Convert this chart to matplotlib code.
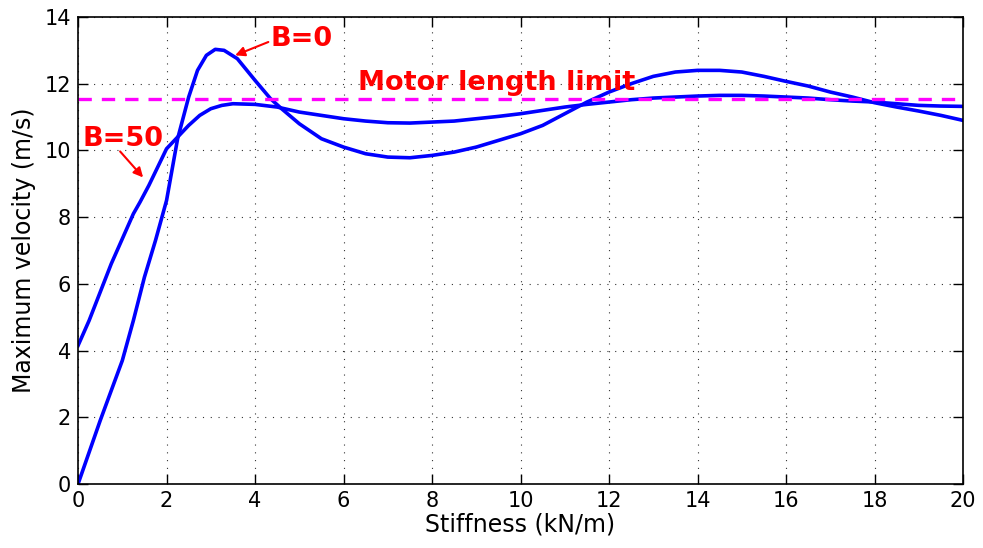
import numpy as np
import matplotlib
matplotlib.use('Agg')
import matplotlib.pyplot as plt

# stiffness (kN/m) and maximum velocity (m/s) for the two damping cases
k_b0 = [0, 0.5, 1.0, 1.25, 1.5, 1.75, 2.0, 2.25, 2.5, 2.7, 2.9, 3.1, 3.3, 3.6, 4.0,
        4.35, 4.6, 5.0, 5.5, 6.0, 6.5, 7.0, 7.5, 8.0, 8.5, 9.0, 9.5, 10.0, 10.5, 11.0,
        11.5, 12.0, 12.5, 13.0, 13.5, 14.0, 14.5, 15.0, 15.5, 16.0, 16.5, 17.0, 17.5,
        18.0, 18.5, 19.0, 19.5, 20.0]
v_b0 = [0, 1.9, 3.7, 4.9, 6.2, 7.3, 8.5, 10.35, 11.6, 12.4, 12.85, 13.03, 13.0, 12.75, 12.1,
        11.55, 11.25, 10.8, 10.35, 10.1, 9.9, 9.8, 9.78, 9.85, 9.95, 10.1, 10.3, 10.5, 10.75, 11.1,
        11.45, 11.75, 12.0, 12.22, 12.35, 12.4, 12.4, 12.35, 12.22, 12.07, 11.93, 11.75, 11.6,
        11.43, 11.3, 11.18, 11.05, 10.9]

k_b50 = [0, 0.25, 0.5, 0.75, 1.0, 1.25, 1.4, 1.6, 1.8, 2.0, 2.25, 2.5, 2.75, 3.0, 3.25, 3.5,
         4.0, 4.5, 5.0, 5.5, 6.0, 6.5, 7.0, 7.5, 8.0, 8.5, 9.0, 9.5, 10.0, 10.5, 11.0, 11.5,
         12.0, 12.5, 13.0, 13.5, 14.0, 14.5, 15.0, 15.5, 16.0, 16.5, 17.0, 17.5, 18.0, 18.5,
         19.0, 19.5, 20.0]
v_b50 = [4.15, 4.9, 5.75, 6.6, 7.35, 8.1, 8.45, 8.95, 9.5, 10.05, 10.4, 10.75, 11.05, 11.25, 11.35, 11.4,
         11.38, 11.3, 11.15, 11.05, 10.95, 10.88, 10.83, 10.82, 10.85, 10.88, 10.95, 11.02, 11.1, 11.2, 11.3, 11.38,
         11.45, 11.52, 11.57, 11.6, 11.63, 11.65, 11.65, 11.63, 11.6, 11.57, 11.52, 11.48, 11.45, 11.4,
         11.35, 11.33, 11.32]

motor_limit = 11.55

fig = plt.figure(figsize=(9.83, 5.48), dpi=100)
ax = fig.add_axes([0.0794, 0.1168, 0.9003, 0.8522])

ax.plot(k_b0, v_b0, color='#0000ff', lw=2.6)
ax.plot(k_b50, v_b50, color='#0000ff', lw=2.6)
ax.plot([0, 20], [motor_limit, motor_limit], color='#ff00ff', lw=2.4, linestyle=(0, (4, 3)))

lbl = dict(color='red', fontsize=19.5, fontweight='bold')
arw = dict(arrowstyle='-|>', color='red', lw=1.5, mutation_scale=14, shrinkA=0, shrinkB=0)

ax.text(9.45, 11.62, 'Motor length limit', ha='center', va='bottom', **lbl)
ax.text(4.34, 13.33, 'B=0', ha='left', va='center', **lbl)
ax.annotate('', xy=(3.55, 12.85), xytext=(4.3, 13.25), arrowprops=arw)
ax.text(0.09, 10.33, 'B=50', ha='left', va='center', **lbl)
ax.annotate('', xy=(1.47, 9.19), xytext=(0.95, 9.97), arrowprops=arw)

ax.set_xlim(0, 20)
ax.set_ylim(0, 14)
ax.set_xticks(np.arange(0, 21, 2))
ax.set_yticks(np.arange(0, 15, 2))
ax.set_xlabel('Stiffness (kN/m)', fontsize=17, labelpad=1)
ax.set_ylabel('Maximum velocity (m/s)', fontsize=17, labelpad=6)
ax.tick_params(direction='in', top=True, right=True, length=7, width=1, labelsize=15, pad=5)
for s in ax.spines.values():
    s.set_linewidth(1.2)
ax.grid(True, color='black', linestyle=(0, (1, 6)), lw=0.8, alpha=0.8)

fig.savefig('out.png', dpi=100, facecolor='white')
